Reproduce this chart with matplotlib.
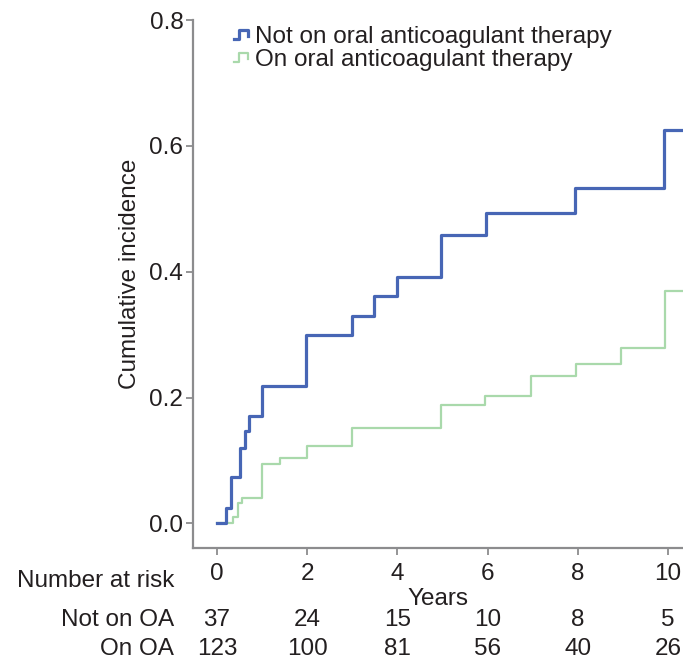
import matplotlib
matplotlib.use("Agg")
import matplotlib.pyplot as plt
from matplotlib.legend_handler import HandlerBase
from matplotlib.lines import Line2D
from matplotlib.transforms import blended_transform_factory

plt.rcParams["font.family"] = ["Liberation Sans", "DejaVu Sans"]

# cumulative incidence curves
not_oa_years = [0, 0.21, 0.31, 0.51, 0.62, 0.71, 1.0, 1.98, 2.99, 3.48, 3.99, 4.97, 5.97, 7.94, 9.9, 10.4]
not_oa_cif = [0, 0.024, 0.073, 0.120, 0.147, 0.170, 0.219, 0.299, 0.330, 0.362, 0.392, 0.458, 0.494, 0.533, 0.626, 0.626]

on_oa_years = [0, 0.36, 0.47, 0.55, 1.0, 1.39, 2.0, 3.0, 4.97, 5.95, 6.95, 7.96, 8.95, 9.92, 10.4]
on_oa_cif = [0, 0.010, 0.033, 0.041, 0.095, 0.104, 0.123, 0.152, 0.188, 0.203, 0.235, 0.254, 0.279, 0.370, 0.370]

# number at risk table
risk_years = [0, 2, 4, 6, 8, 10]
risk_not_oa = [37, 24, 15, 10, 8, 5]
risk_on_oa = [123, 100, 81, 56, 40, 26]

y_ticks = [0.0, 0.2, 0.4, 0.6, 0.8]

BLUE = "#4766b5"
GREEN = "#a9d9ab"
GREY = "#8c8c8e"
TXT = "#231f20"
FS = 17.5


class StepHandler(HandlerBase):
    # little step icon like the original legend
    def create_artists(self, legend, orig_handle, xdescent, ydescent,
                       width, height, fontsize, trans):
        x0, y0 = -xdescent, -ydescent
        xs = [x0, x0 + 0.35 * width, x0 + 0.35 * width, x0 + width, x0 + width]
        ys = [y0 + 0.25 * height, y0 + 0.25 * height, y0 + 0.75 * height,
              y0 + 0.75 * height, y0 + 0.4 * height]
        ln = Line2D(xs, ys, color=orig_handle.get_color(),
                    linewidth=orig_handle.get_linewidth(), transform=trans)
        return [ln]


fig = plt.figure(figsize=(6.83, 6.61), dpi=100)
ax = fig.add_axes([0.2826, 0.1710, 0.7174, 0.7987])

l_on, = ax.plot(on_oa_years, on_oa_cif, drawstyle="steps-post", color=GREEN, linewidth=1.6)
l_not, = ax.plot(not_oa_years, not_oa_cif, drawstyle="steps-post", color=BLUE, linewidth=2.3)

ax.set_xlim(-0.53, 10.33)
ax.set_ylim(-0.039, 0.8)
ax.set_xticks(risk_years)
ax.set_yticks(y_ticks)
ax.set_yticklabels([f"{v:.1f}" for v in y_ticks])

for side in ["top", "right"]:
    ax.spines[side].set_visible(False)
for side in ["left", "bottom"]:
    ax.spines[side].set_color(GREY)
    ax.spines[side].set_linewidth(1.6)
ax.tick_params(axis="both", colors=GREY, labelcolor=TXT, labelsize=FS,
               length=5, width=1.3)
ax.tick_params(axis="y", pad=2)
ax.tick_params(axis="x", pad=6)

ax.set_ylabel("Cumulative incidence", fontsize=FS, color=TXT)
ax.yaxis.set_label_coords(-0.106, 0.52)
ax.set_xlabel("Years", fontsize=FS, color=TXT)
ax.xaxis.set_label_coords(0.5, -0.075)

leg = ax.legend([l_not, l_on],
                ["Not on oral anticoagulant therapy", "On oral anticoagulant therapy"],
                handler_map={Line2D: StepHandler()},
                loc="upper left", bbox_to_anchor=(0.343, 0.961),
                bbox_transform=fig.transFigure, frameon=False,
                fontsize=FS, handlelength=0.55, handletextpad=0.3,
                labelspacing=0.05, borderpad=0, borderaxespad=0)
for t in leg.get_texts():
    t.set_color(TXT)

# number at risk
trans = blended_transform_factory(ax.transData, fig.transFigure)
fig.text(0.255, 0.121, "Number at risk", ha="right", va="center", fontsize=FS, color=TXT)
fig.text(0.255, 0.062, "Not on OA", ha="right", va="center", fontsize=FS, color=TXT)
fig.text(0.255, 0.018, "On OA", ha="right", va="center", fontsize=FS, color=TXT)
for x, n1, n2 in zip(risk_years, risk_not_oa, risk_on_oa):
    ax.text(x, 0.062, str(n1), transform=trans, ha="center", va="center",
            fontsize=FS, color=TXT, clip_on=False)
    ax.text(x, 0.018, str(n2), transform=trans, ha="center", va="center",
            fontsize=FS, color=TXT, clip_on=False)

fig.savefig("out.png", dpi=100)
